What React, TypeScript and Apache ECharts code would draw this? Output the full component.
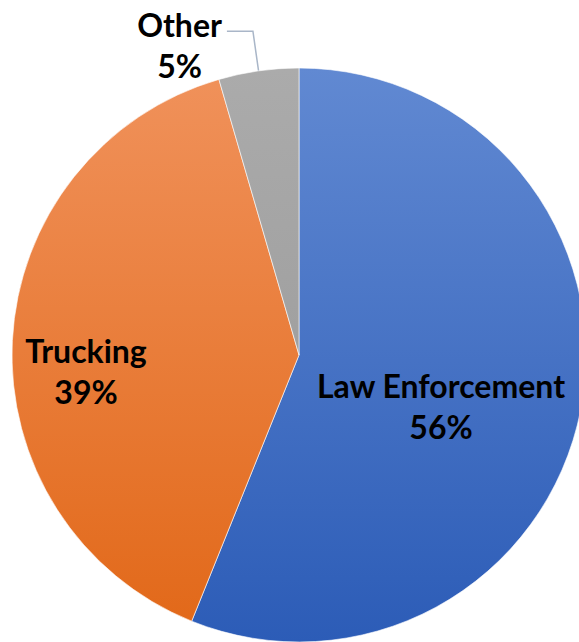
import React, { useEffect, useRef } from "react";
import * as echarts from "echarts";

const categories = ["Law Enforcement", "Trucking", "Other"];
const shares = [56.1, 39.4, 4.5];

const topColors = ["#6189d2", "#f0915a", "#ababab"];
const bottomColors = ["#2c5cb7", "#e2691a", "#a0a0a0"];

export default function App() {
  const ref = useRef<HTMLDivElement>(null);

  useEffect(() => {
    if (!ref.current) return;
    const chart = echarts.init(ref.current, null, { renderer: "svg" });
    const font = "Lato, 'Noto Sans', sans-serif";
    const insideLabelPos: Record<number, [number, number]> = {
      0: [441, 406],
      1: [86, 371],
    };
    chart.setOption({
      animation: false,
      backgroundColor: "#ffffff",
      series: [
        {
          type: "pie",
          center: [299, 355],
          radius: [0, 287],
          startAngle: 90,
          clockwise: true,
          percentPrecision: 0,
          avoidLabelOverlap: false,
          itemStyle: { borderColor: "#ffffff", borderWidth: 0.6 },
          label: {
            fontFamily: font,
            fontWeight: "bold",
            fontSize: 32,
            lineHeight: 41,
            color: "#000000",
          },
          labelLayout: (params: any) => {
            const p = insideLabelPos[params.dataIndex];
            if (!p) return {};
            return { x: p[0], y: p[1], align: "center", verticalAlign: "middle" };
          },
          data: categories.map((name, i) => ({
            name,
            value: shares[i],
            itemStyle: {
              color: new echarts.graphic.LinearGradient(0, 0, 0, 1, [
                { offset: 0, color: topColors[i] },
                { offset: 1, color: bottomColors[i] },
              ]),
            },
            label:
              i === 2
                ? {
                    show: true,
                    position: "outside",
                    formatter: "{c|{b}}\n{c|{d}%}",
                    padding: [27, 0, 0, 0],
                    distanceToLabelLine: 5,
                    rich: {
                      c: {
                        align: "center",
                        fontFamily: font,
                        fontWeight: "bold",
                        fontSize: 32,
                        lineHeight: 41,
                        color: "#000000",
                      },
                    },
                  }
                : {
                    show: true,
                    position: "inside",
                    formatter: "{b}\n{d}%",
                    align: "center",
                  },
            labelLine:
              i === 2
                ? {
                    show: true,
                    length: 40,
                    length2: 26,
                    lineStyle: { color: "#a9b6c8", width: 1.5 },
                  }
                : { show: false },
          })),
        },
      ],
    });
    return () => chart.dispose();
  }, []);

  return (
    <div
      ref={ref}
      style={{ position: "fixed", left: 0, top: 0, width: 579, height: 642 }}
    />
  );
}
